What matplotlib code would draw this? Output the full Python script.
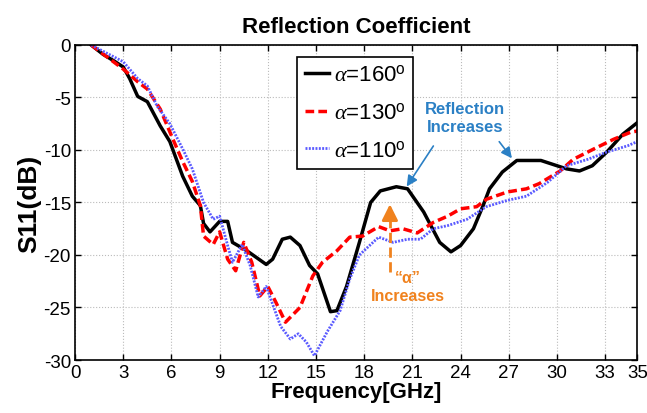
import numpy as np
import matplotlib.pyplot as plt

plt.rcParams['font.family'] = ['Liberation Sans', 'DejaVu Sans']
plt.rcParams['axes.unicode_minus'] = False
plt.rcParams['mathtext.fontset'] = 'custom'
plt.rcParams['mathtext.it'] = 'Liberation Serif:italic'
plt.rcParams['mathtext.rm'] = 'Liberation Sans'

# S11 for alpha = 160 deg
f160 = [1, 1.75, 2.4, 3.0, 3.4, 3.9, 4.5, 5.3, 5.9, 6.7, 7.3, 7.8, 8.0, 8.4, 9.0, 9.5, 9.8,
        10.7, 11.9, 12.3, 12.9, 13.4, 14.0, 14.6, 15.1, 15.9, 16.3, 16.9, 17.7, 18.4, 19.0,
        20.0, 20.7, 21.7, 22.7, 23.4, 24.0, 24.8, 25.4, 25.8, 26.6, 27.5, 29.0, 30.0, 30.6,
        31.4, 32.2, 33.1, 34.1, 35.0]
s160 = [0, -0.9, -1.5, -2.1, -3.2, -4.9, -5.4, -7.7, -9.2, -12.5, -14.4, -15.3, -17.0, -17.8,
        -16.8, -16.8, -18.8, -19.6, -20.9, -20.4, -18.5, -18.3, -19.1, -21.0, -21.8, -25.4,
        -25.3, -23.0, -18.8, -15.0, -13.9, -13.5, -13.7, -15.9, -18.8, -19.7, -19.1, -17.5,
        -15.3, -13.7, -12.1, -11.0, -11.0, -11.5, -11.8, -12.0, -11.5, -10.2, -8.5, -7.4]

# alpha = 130 deg
f130 = [1, 3.0, 3.9, 4.5, 5.3, 6.1, 6.7, 7.3, 7.8, 8.0, 8.6, 9.0, 9.5, 10.0, 10.5, 11.0, 11.5,
        12.0, 12.5, 13.1, 14.0, 14.8, 15.4, 16.3, 17.1, 17.9, 18.9, 19.6, 20.4, 21.3, 22.3,
        23.2, 24.0, 25.0, 25.6, 26.9, 28.1, 28.9, 30.2, 31.0, 32.3, 33.5, 34.6, 35.0]
s130 = [0, -2.3, -3.5, -4.2, -6.1, -9.0, -11.1, -13.0, -15.3, -18.2, -19.0, -17.8, -20.4, -21.5,
        -18.8, -20.7, -23.9, -23.0, -24.5, -26.4, -25.0, -22.0, -20.7, -19.6, -18.3, -18.2,
        -17.3, -17.7, -17.5, -17.9, -16.9, -16.3, -15.6, -15.4, -14.7, -14.0, -13.7, -13.2,
        -12.0, -10.9, -9.9, -9.0, -8.3, -8.2]

# alpha = 110 deg
f110 = [1, 3.0, 3.9, 4.5, 5.1, 5.9, 6.7, 7.3, 8.0, 8.6, 9.0, 9.5, 9.8, 10.4, 10.9, 11.4, 11.9,
        12.8, 13.4, 13.9, 14.4, 14.9, 15.7, 16.5, 17.1, 17.7, 18.9, 19.8, 20.7, 21.5, 22.3,
        23.2, 24.4, 25.6, 26.9, 28.1, 29.4, 30.6, 31.9, 33.1, 34.4, 35.0]
s110 = [0, -1.6, -3.2, -3.9, -5.8, -7.5, -9.9, -11.8, -15.0, -16.6, -16.3, -19.1, -20.7, -19.0,
        -21.0, -24.0, -23.0, -26.8, -28.0, -27.5, -28.3, -29.6, -27.3, -25.3, -22.3, -20.0,
        -18.3, -18.8, -18.5, -18.5, -17.5, -17.2, -16.6, -15.4, -14.8, -14.4, -13.1, -11.5,
        -10.9, -10.2, -9.6, -9.2]

xticks = [0, 3, 6, 9, 12, 15, 18, 21, 24, 27, 30, 33, 35]
yticks = [0, -5, -10, -15, -20, -25, -30]

fig = plt.figure(figsize=(6.47, 4.14), dpi=100)
ax = fig.add_axes([0.116, 0.128, 0.869, 0.761])

ax.plot(f160, s160, color='black', lw=2.5, label=r'$\alpha$=160$^{\rm o}$')
ax.plot(f130, s130, color='red', lw=2.5, ls=(0, (2.5, 1.2)), label=r'$\alpha$=130$^{\rm o}$')
ax.plot(f110, s110, color='#5a5aff', lw=2.0, ls=(0, (0.7, 0.5)), label=r'$\alpha$=110$^{\rm o}$')

ax.set_xlim(0, 35)
ax.set_ylim(-30, 0)
ax.set_xticks(xticks)
ax.set_yticks(yticks)
ax.tick_params(direction='in', length=4, width=1, top=True, right=True, pad=3, labelsize=13.5)
ax.grid(True, ls=':', color='#bbbbbb', lw=0.8)
for sp in ax.spines.values():
    sp.set_linewidth(1.2)

ax.set_xlabel('Frequency[GHz]', fontsize=16, fontweight='bold', labelpad=0)
ax.set_ylabel('S11(dB)', fontsize=19, fontweight='bold', labelpad=2)
ax.set_title('Reflection Coefficient', fontsize=16, fontweight='bold', pad=9)

leg = ax.legend(loc='upper left', bbox_to_anchor=(0.395, 0.962), borderaxespad=0,
                fontsize=16, fancybox=False, framealpha=1, edgecolor='black',
                handlelength=1.1, handletextpad=0.2, borderpad=0.35, labelspacing=0.75)
leg.get_frame().set_linewidth(1.2)

blue = '#2b80c5'
orange = '#f0821e'
ax.text(24.3, -6.9, 'Reflection\nIncreases', color=blue, fontsize=12, fontweight='bold',
        ha='center', va='center', linespacing=1.3)
ax.annotate('', xy=(20.55, -13.7), xytext=(22.4, -9.4),
            arrowprops=dict(arrowstyle='-|>', color=blue, lw=1.2, mutation_scale=16))
ax.annotate('', xy=(27.3, -11.0), xytext=(26.3, -9.0),
            arrowprops=dict(arrowstyle='-|>', color=blue, lw=1.2, mutation_scale=16))

ax.plot([19.6, 19.6], [-21.6, -16.2], color=orange, lw=2, ls='--')
ax.annotate('', xy=(19.6, -14.9), xytext=(19.6, -16.4),
            arrowprops=dict(arrowstyle='-|>', color=orange, lw=2, mutation_scale=24))
ax.text(20.7, -22.1, '\u201c\u03b1\u201d', color=orange, fontsize=11.5, fontweight='bold',
        ha='center', va='center')
ax.text(20.7, -23.9, 'Increases', color=orange, fontsize=11.5, fontweight='bold',
        ha='center', va='center')

fig.savefig('out.png', dpi=100)
